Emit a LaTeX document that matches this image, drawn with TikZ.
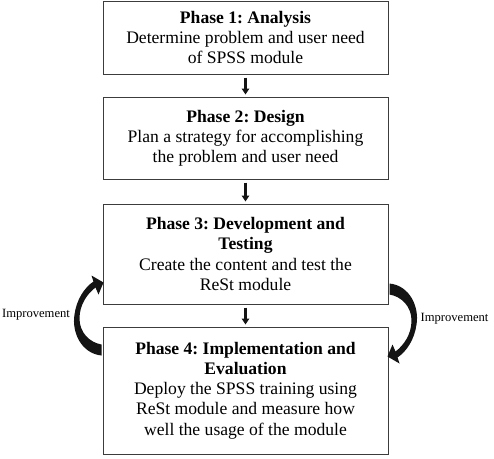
\documentclass[tikz,border=0pt]{standalone}
\usepackage{fontspec}
\setmainfont{Liberation Serif}
\usetikzlibrary{arrows.meta, positioning, calc}
\frenchspacing
\definecolor{mydark}{RGB}{20,20,20}
\definecolor{myline}{RGB}{60,60,60}
\tikzset{
  phasebox/.style={rectangle, draw=myline, fill=white, line width=1pt,
    minimum width=285pt, align=center, inner sep=2pt,
    font=\fontsize{17.6}{20.2}\selectfont},
  arrow/.style={-{Triangle[length=6pt, width=7.5pt]}, line width=2.4pt,
    color=mydark, shorten <=3pt, shorten >=2pt},
  improvelabel/.style={font=\fontsize{12.6}{14}\selectfont, inner sep=0pt},
  bendarrow/.pic={
    \fill[mydark] (-1,36) .. controls (-21,34) and (-31,13) .. (-28,-5)
      .. controls (-26,-20) and (-18,-32) .. (-9,-38) -- (-11,-44) -- (1,-37)
      -- (-4,-25) -- (-7,-32) .. controls (-15,-26) and (-23,-15) .. (-23,-1)
      .. controls (-23,13) and (-13,23) .. (-1,25) -- cycle;
  }
}

\begin{document}
\begin{tikzpicture}[x=1pt, y=-1pt]
  \useasboundingbox (0,0) rectangle (494,458);

  % Phases
  \node[phasebox, minimum height=73pt] (p1) at (245.5,37.5)
    {\textbf{Phase 1: Analysis}\\ Determine problem and user need\\ of SPSS module};
  \node[phasebox, minimum height=82pt, below=22pt of p1] (p2)
    {\textbf{Phase 2: Design}\\ Plan a strategy for accomplishing\\ the problem and user need};
  \node[phasebox, minimum height=100pt, below=24pt of p2] (p3)
    {\textbf{Phase 3: Development and}\\ \textbf{Testing}\\ Create the content and test the\\ ReSt module};
  \node[phasebox, minimum height=127pt, below=22pt of p3] (p4)
    {\textbf{Phase 4: Implementation and}\\ \textbf{Evaluation}\\ Deploy the SPSS training using\\ ReSt module and measure how\\ well the usage of the module};

  % Flow
  \draw[arrow] (p1) -- (p2);
  \draw[arrow] (p2) -- (p3);
  \draw[arrow] (p3) -- (p4);

  % Improvement loops
  \coordinate (gapL) at ($(p3.south west)!0.5!(p4.north west)+(0,4)$);
  \coordinate (gapR) at ($(p3.south east)!0.5!(p4.north east)+(0,4)$);
  \pic at (gapL) {bendarrow};
  \pic[rotate=180] at (gapR) {bendarrow};
  \node[improvelabel] (improveL) at (36,315) {Improvement};
  \node[improvelabel] (improveR) at (454.5,318.5) {Improvement};
\end{tikzpicture}
\end{document}
